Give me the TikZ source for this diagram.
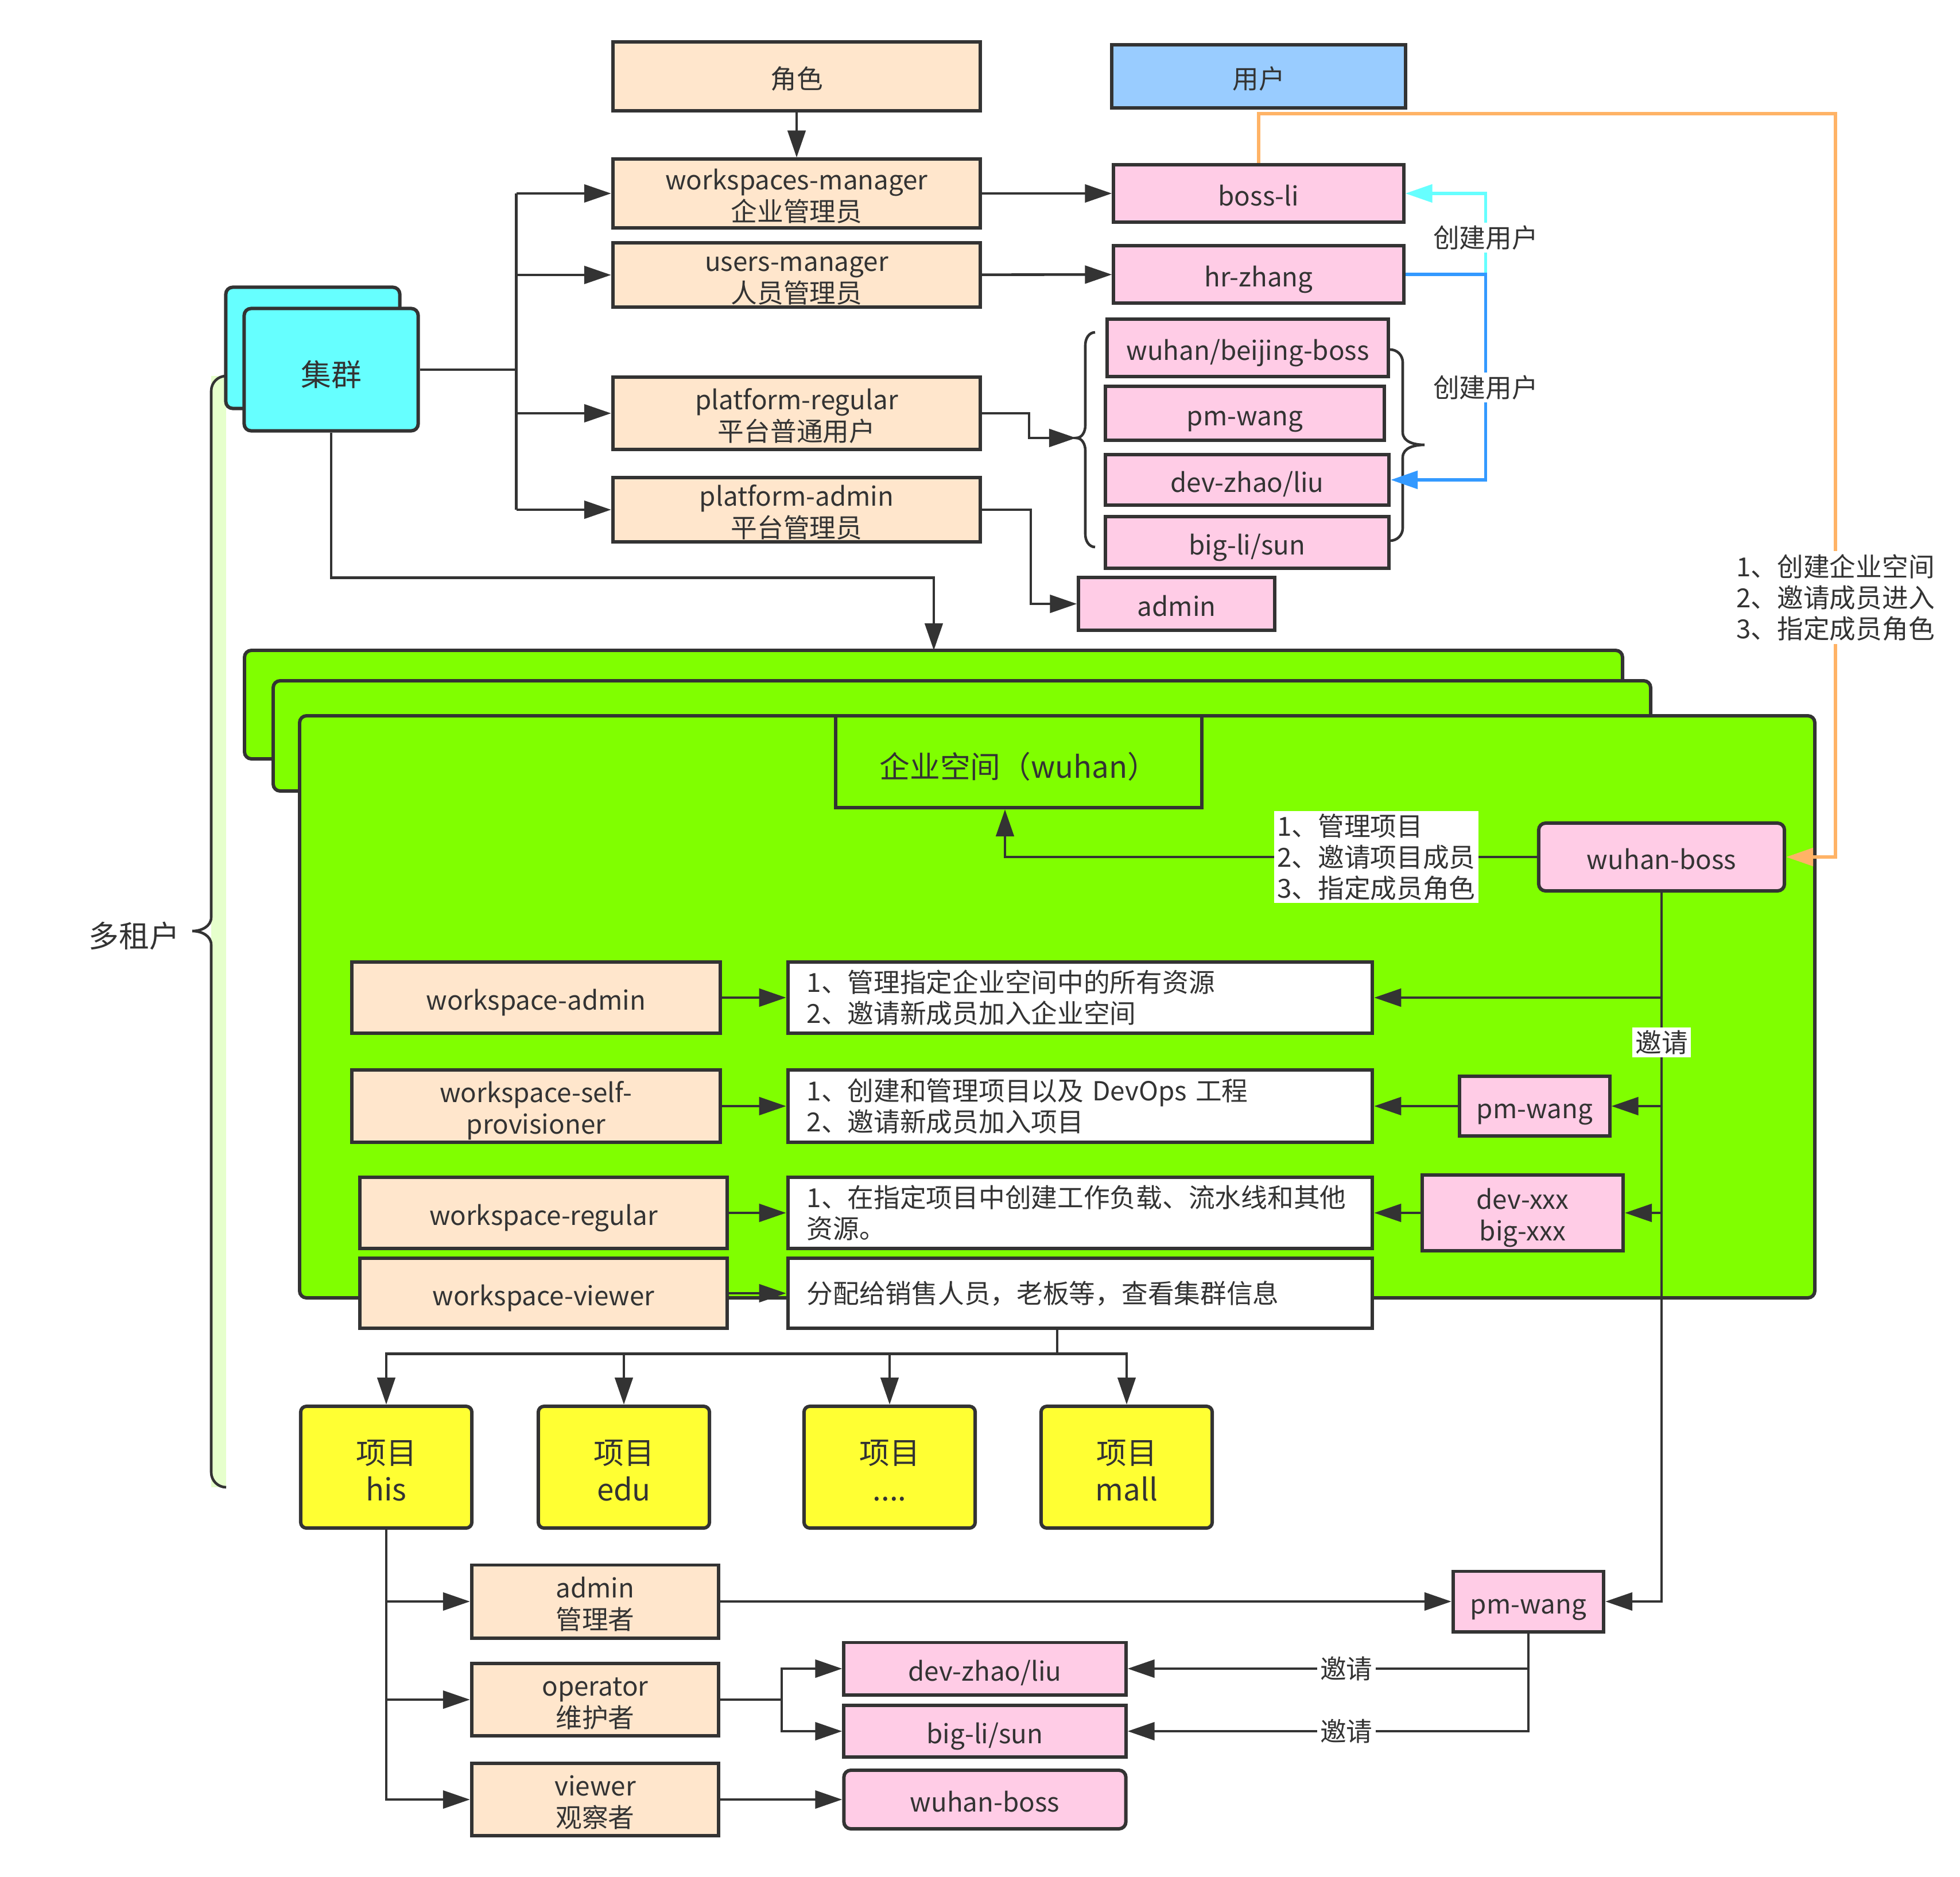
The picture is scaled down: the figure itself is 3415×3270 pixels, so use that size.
\documentclass[tikz,border=0pt]{standalone}
\usepackage{fontspec}
\setmainfont{Noto Sans CJK SC}
\usetikzlibrary{positioning,arrows.meta}
\definecolor{dark}{HTML}{333333}
\definecolor{peach}{HTML}{FFE6CC}
\definecolor{pinkc}{HTML}{FFCCE6}
\definecolor{userblue}{HTML}{99CCFF}
\definecolor{cyanc}{HTML}{66FFFF}
\definecolor{greenc}{HTML}{80FF00}
\definecolor{yellowc}{HTML}{FFFF33}
\definecolor{palegreen}{HTML}{E6FFCC}
\definecolor{orangec}{HTML}{FFB366}
\definecolor{bluec}{HTML}{3399FF}
\begin{document}
\begin{tikzpicture}[x=0.01cm, y=-0.01cm,
    every node/.style = { text = dark, align = center, inner sep = 0pt, font = \fontsize{13}{15.4}\selectfont },
    big/.style = { font = \fontsize{15}{18.2}\selectfont, text height = 16.4pt, text depth = 0pt },
    one/.style = { text height = 12pt, text depth = 0pt },
    two/.style = { text height = 27.3pt, text depth = 0pt },
    sz/.style 2 args = { minimum width = #1cm, minimum height = #2cm },
    role/.style = { draw = dark, line width = 1.7pt, fill = peach, one },
    user/.style = { draw = dark, line width = 1.7pt, fill = pinkc, one },
    clus/.style = { draw = dark, line width = 1.7pt, fill = cyanc, rounded corners = 0.12cm, big },
    desc/.style = { draw = dark, line width = 1.7pt, fill = white, align = left, text width = 9.52cm, inner xsep = 0.33cm, minimum height = 1.24cm },
    proj/.style = { draw = dark, line width = 1.7pt, fill = yellowc, rounded corners = 0.1cm, sz = {2.98}{2.12}, big, text height = 33pt },
    gbox/.style = { draw = dark, line width = 1.7pt, fill = greenc, rounded corners = 0.12cm },
    ln/.style = { draw = dark, line width = 1.3pt },
    arr/.style = { ln, -{Triangle[length=4.7mm, width=3.1mm]} },
    orangeln/.style = { draw = orangec, line width = 1.5pt, -{Triangle[length=4.7mm, width=3.1mm]} },
    cyanarr/.style = { draw = cyanc, line width = 1.5pt, -{Triangle[length=4.7mm, width=3.1mm]} },
    bluearr/.style = { draw = bluec, line width = 1.5pt, -{Triangle[length=4.7mm, width=3.1mm]} },
    tag/.style = { fill = white, inner sep = 0.5mm }]
    \useasboundingbox (0,0) rectangle (3415,3270);

    % workspace layers
    \foreach \l/\t/\r/\b in {426/1133/2827/1322, 476/1186/2876/1378, 522/1247/3162/2261}
      \draw[gbox] (\l,\t) rectangle (\r,\b);

    % multi-tenant bracket
    \fill[palegreen] (368,655) rectangle (394,2591);
    \draw[ln] (394,655) to[out=180,in=90] (368,681) -- (368,1598) to[out=-90,in=0] (335,1622)
      to[out=0,in=90] (368,1646) -- (368,2565) to[out=-90,in=180] (394,2591);
    \node[big] (tenant) at (234,1622) {多租户};

    % top: roles and users
    \node[role, sz={6.4}{1.2}] (jiaose) at (1388,133) {角色};
    \node[draw = dark, line width = 1.7pt, fill = userblue, one, sz={5.12}{1.1}] (yonghu) at (2193,133) {用户};
    \node[role, two, sz={6.4}{1.19}] (wsmgr) at (1388,337) {workspaces-manager\\企业管理员};
    \node[role, two, sz={6.4}{1.12}] (usrmgr) at (1388,479) {users-manager\\人员管理员};
    \node[role, two, sz={6.4}{1.25}] (platreg) at (1388,720) {platform-regular\\平台普通用户};
    \node[role, two, sz={6.4}{1.11}] (platadm) at (1388,888) {platform-admin\\平台管理员};

    \node[user, sz={5.05}{1.0}] (bossli) at (2193,337) {boss-li};
    \node[user, sz={5.05}{1.0}] (hrzhang) at (2193,478) {hr-zhang};
    \node[user, sz={4.9}{0.99}] (wbboss) at (2174,606) {wuhan/beijing-boss};
    \node[user, sz={4.86}{0.94}] (pmwang) at (2169,720) {pm-wang};
    \node[user, sz={4.94}{0.88}] (devzl) at (2173,836) {dev-zhao/liu};
    \node[user, sz={4.94}{0.89}] (bigls) at (2173,945) {big-li/sun};
    \node[user, sz={3.41}{0.91}] (admin) at (2050,1052) {admin};

    \node[clus, sz={3.03}{2.11}] (clusback) at (545,606) {};
    \node[clus, sz={3.03}{2.13}] (cluster) at (577,644) {集群};

    % braces round the users
    \coordinate (ltip) at (1875,763);
    \draw[ln] (1908,579) to[out=180,in=90] (1891,601) -- (1891,741) to[out=-90,in=0] (ltip)
      to[out=0,in=90] (1891,785) -- (1891,931) to[out=-90,in=180] (1908,953);
    \draw[ln] (2422,609) to[out=0,in=90] (2444,631) -- (2444,753) to[out=-90,in=180] (2482,775)
      to[out=180,in=90] (2444,797) -- (2444,920) to[out=-90,in=0] (2422,942);

    % inside the workspace
    \node[draw = dark, line width = 1.7pt, fill = greenc, sz={6.38}{1.6}, big] (wsname) at (1775,1327) {企业空间（wuhan）};
    \node[user, rounded corners = 0.12cm, sz={4.28}{1.18}] (wuhanboss) at (2895,1493) {wuhan-boss};

    \node[role, sz={6.41}{1.24}] (wsadmin) at (934,1738) {workspace-admin};
    \node[role, two, sz={6.41}{1.26}] (wsself) at (934,1927) {workspace-self-\\provisioner};
    \node[role, sz={6.40}{1.23}] (wsreg) at (947,2113) {workspace-regular};
    \node[role, sz={6.40}{1.21}] (wsview) at (947,2253) {workspace-viewer};

    \node[desc] (desc1) at (1882,1738) {1、管理指定企业空间中的所有资源\\2、邀请新成员加入企业空间};
    \node[desc, minimum height = 1.26cm] (desc2) at (1882,1927) {1、创建和管理项目以及 DevOps 工程\\2、邀请新成员加入项目};
    \node[desc, minimum height = 1.23cm] (desc3) at (1882,2113) {1、在指定项目中创建工作负载、流水线和其他\\资源。};
    \node[desc, minimum height = 1.21cm] (desc4) at (1882,2253) {分配给销售人员，老板等，查看集群信息};

    \node[user, sz={2.61}{1.04}] (pmwangA) at (2674,1927) {pm-wang};
    \node[user, two, sz={3.5}{1.31}] (devxxx) at (2653,2113) {dev-xxx\\big-xxx};

    % projects
    \node[proj] (his) at (673,2556) {项目\\his};
    \node[proj] (edu) at (1087,2556) {项目\\edu};
    \node[proj] (dots) at (1550,2556) {项目\\....};
    \node[proj] (mall) at (1963,2556) {项目\\mall};

    \node[role, two, sz={4.3}{1.27}] (adminR) at (1037,2790) {admin\\管理者};
    \node[role, two, sz={4.3}{1.26}] (operR) at (1037,2961) {operator\\维护者};
    \node[role, two, sz={4.3}{1.26}] (viewR) at (1037,3135) {viewer\\观察者};
    \node[user, sz={2.62}{1.05}] (pmwangB) at (2663,2790) {pm-wang};
    \node[user, sz={4.91}{0.91}] (devzlB) at (1716,2907) {dev-zhao/liu};
    \node[user, sz={4.91}{0.9}] (biglsB) at (1716,3016) {big-li/sun};
    \node[user, rounded corners = 0.12cm, sz={4.91}{1.02}] (wuhanbossB) at (1716,3135) {wuhan-boss};

    % connectors, top
    \draw[arr] (jiaose) -- (wsmgr);
    \draw[ln] (cluster.east) -- ++(168,0) coordinate (cfork);
    \draw[ln] (cfork |- wsmgr.west) -- (cfork |- platadm.west);
    \foreach \n in {wsmgr,usrmgr,platreg,platadm}
      \draw[arr] (cfork |- \n.west) -- (\n.west);
    \draw[arr] (wsmgr) -- (bossli);
    \draw[arr] (usrmgr) -- (hrzhang);
    \draw[arr] (platreg.east) -- ++(82,0) |- (ltip);
    \draw[arr] (platadm.east) -- ++(85,0) |- (admin.west);
    \coordinate (gtop) at (1627,1133);
    \draw[arr] (cluster.south) -- ++(0,253) -| (gtop);

    \draw[cyanarr] (hrzhang.east) -- ++(140,0) |- node[tag, pos=0.227] {创建用户} (bossli.east);
    \draw[bluearr] (hrzhang.east) -- ++(140,0) |- node[tag, pos=0.275] {创建用户} (devzl.east);

    \coordinate (otop) at (3198,198);
    \draw[orangeln] (bossli.north) |- (otop) -- node[tag, pos=0.651, align=left] {1、创建企业空间\\2、邀请成员进入\\3、指定成员角色}
      (otop |- wuhanboss.east) -- (wuhanboss.east);

    % connectors, workspace
    \draw[arr] (wuhanboss.west) -| node[tag, pos=0.151, align=left] {1、管理项目\\2、邀请项目成员\\3、指定成员角色}
      ([xshift=-2.4mm]wsname.south);
    \draw[arr] (wuhanboss.south) -- node[tag, pos=0.211] {邀请} (wuhanboss.south |- pmwangB.east) -- (pmwangB.east);
    \foreach \n in {desc1,pmwangA,devxxx}
      \draw[arr] (wuhanboss.south |- \n.east) -- (\n.east);
    \draw[arr] (pmwangA) -- (desc2);
    \draw[arr] (devxxx) -- (desc3);
    \foreach \a/\b in {wsadmin/desc1, wsself/desc2, wsreg/desc3, wsview/desc4}
      \draw[arr] (\a) -- (\b);

    % connectors, projects
    \draw[ln] ([xshift=-4mm]desc4.south) -- ++(0,42) coordinate (pfork);
    \foreach \p in {his,edu,dots,mall}
      \draw[arr] (pfork) -| (\p.north);
    \draw[arr] (his.south) |- (viewR.west);
    \foreach \n in {adminR,operR}
      \draw[arr] (his.south |- \n.west) -- (\n.west);
    \draw[arr] (adminR) -- (pmwangB);
    \draw[ln] (operR.east) -- ++(107,0) coordinate (ofork);
    \foreach \n in {devzlB,biglsB}
      \draw[arr] (ofork) |- (\n.west);
    \draw[arr] (viewR) -- (wuhanbossB);
    \foreach \n in {devzlB,biglsB}
      \draw[arr] (pmwangB.south) |- node[tag, pos=0.727] {邀请} (\n.east);
\end{tikzpicture}
\end{document}
